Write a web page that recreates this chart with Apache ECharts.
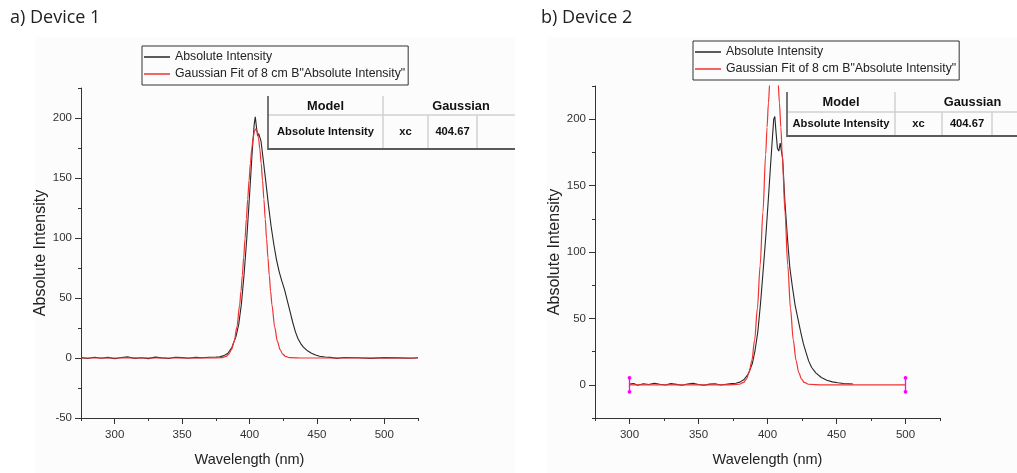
<!DOCTYPE html>
<html>
<head>
<meta charset="utf-8">
<title>Device 1 / Device 2 emission spectra</title>
<script src="https://cdn.jsdelivr.net/npm/echarts@6/dist/echarts.min.js"></script>
<style>
  html, body { margin: 0; padding: 0; background: #ffffff; }
  #chart { width: 1017px; height: 473px; }
</style>
</head>
<body>
<div id="chart"></div>
<script>
// ---- data -------------------------------------------------------------
const panelTitles = ['a) Device 1', 'b) Device 2'];
const seriesNames = ['Absolute Intensity', 'Gaussian Fit of 8 cm B"Absolute Intensity"'];

const wavelengthTicks = [300, 350, 400, 450, 500];
const intensityTicks1 = [-50, 0, 50, 100, 150, 200];
const intensityTicks2 = [0, 50, 100, 150, 200];

const tableHeader = ['Model', 'Gaussian'];
const tableRow = ['Absolute Intensity', 'xc', '404.67'];

// measured spectrum, device 1 [wavelength nm, intensity]
const device1Spectrum = [
  [275, 0.3], [280, -0.4], [285, 0.6], [290, -0.2], [295, 0.5], [300, -0.6], [305, 0.4],
  [310, 0.9], [315, -0.3], [320, 0.2], [325, -0.5], [330, 0.7], [335, 0.1], [340, -0.4],
  [345, 0.6], [350, 0.3], [355, -0.2], [360, 0.5], [365, 0.2], [370, 0.6], [375, 0.8],
  [378, 1.0], [381, 2], [384, 4], [387, 9], [390, 18], [392, 28], [394, 45], [396, 70],
  [398, 100], [400, 135], [402, 172], [403.5, 195], [404.3, 201], [405.2, 192], [406, 185],
  [406.8, 187], [407.6, 188], [408.5, 181], [410, 167], [412, 148], [414, 128], [416, 110],
  [418, 95], [420, 82], [422, 72], [424, 64], [426, 57], [428, 48], [430, 39], [432, 30],
  [434, 22], [436, 16], [438, 12], [440, 9], [443, 6], [446, 4], [449, 2.5], [452, 1.5],
  [456, 0.8], [460, 0.5], [465, -0.3], [470, 0.4], [480, 0.2], [490, -0.3], [500, 0.3],
  [510, 0.1], [520, -0.2], [525, 0.2]
];

// Gaussian fit, device 1 (xc = 404.67)
const device1Fit = [
  [275, 0], [350, 0], [370, 0], [379.67, 0.3], [382.67, 1.4], [384.67, 3.2], [386.67, 7.0],
  [388.67, 14.0], [390.67, 25.9], [392.67, 44.0], [393.67, 55.5], [394.67, 68.8], [395.67, 83.6],
  [396.67, 99.3], [397.67, 115.8], [398.67, 132.3], [399.67, 148.0], [400.67, 162.2],
  [401.67, 174.2], [402.67, 183.4], [403.67, 189.1], [404.67, 191], [405.67, 189.1],
  [406.67, 183.4], [407.67, 174.2], [408.67, 162.2], [409.67, 148.0], [410.67, 132.3],
  [411.67, 115.8], [412.67, 99.3], [413.67, 83.6], [414.67, 68.8], [415.67, 55.5],
  [416.67, 44.0], [418.67, 25.9], [420.67, 14.0], [422.67, 7.0], [424.67, 3.2],
  [426.67, 1.4], [429.67, 0.3], [440, 0], [525, 0]
];

// measured spectrum, device 2
const device2Spectrum = [
  [300, 0.5], [303, 1.0], [306, -0.3], [310, 0.8], [314, 0.2], [318, 1.2], [322, 0.4],
  [326, -0.2], [330, 0.9], [334, 0.3], [338, -0.4], [342, 0.6], [346, 1.1], [350, 0.2],
  [354, -0.3], [358, 0.5], [362, 0.8], [366, -0.2], [370, 0.4], [374, 0.9], [377, 1.2],
  [380, 2], [383, 4], [386, 8], [389, 16], [391, 26], [393, 40], [395, 62], [397, 88],
  [399, 115], [400.5, 138], [402, 162], [403.5, 185], [404.5, 200], [405.3, 202],
  [406.2, 190], [407.2, 178], [408.2, 176], [409.2, 182], [410.2, 183], [411, 170],
  [412.6, 138], [414.5, 110], [416.2, 88], [418, 74], [420, 60], [421.8, 51], [424, 40],
  [426, 31], [428, 24], [429.8, 18], [432, 13], [435, 9], [439, 5.5], [443, 3.5],
  [447, 2.2], [451, 1.5], [455, 1.0], [459, 0.8], [462, 0.6]
];

// Gaussian fit, device 2 (xc = 404.67), evaluated over the fit range 300-500 nm
const device2Fit = [
  [300, 0], [350, 0], [370, 0], [379.67, 0.4], [382.67, 1.8], [384.67, 4.2], [386.67, 9.2],
  [388.67, 18.4], [390.67, 33.8], [392.67, 57.5], [394.67, 90.0], [396.67, 130.0],
  [398.67, 173.3], [399.67, 193.8], [400.67, 212.3], [401.67, 228.0], [402.67, 240.0],
  [403.67, 247.5], [404.67, 250], [405.67, 247.5], [406.67, 240.0], [407.67, 228.0],
  [408.67, 212.3], [409.67, 193.8], [410.67, 173.3], [412.67, 130.0], [414.67, 90.0],
  [416.67, 57.5], [418.67, 33.8], [420.67, 18.4], [422.67, 9.2], [424.67, 4.2],
  [426.67, 1.8], [429.67, 0.4], [440, 0], [500, 0]
];

// ends of the fitted data range, device 2
const device2FitRange = [[300, 0], [500, 0]];

// ---- styling ----------------------------------------------------------
const SANS = "'Liberation Sans', Arial, sans-serif";
const AXIS_COLOR = '#333333';
const BLACK = '#262626';
const RED = '#f03232';

function labelFormatter(ticks) {
  return v => (ticks.indexOf(v) >= 0 ? String(v) : '');
}

function primaryX(gridIndex) {
  return {
    type: 'value', gridIndex, min: 275, max: 525, interval: 25, position: 'bottom',
    axisLine: { show: true, onZero: false, lineStyle: { color: AXIS_COLOR, width: 1 } },
    axisTick: { show: true, inside: false, length: 3, lineStyle: { color: AXIS_COLOR } },
    axisLabel: { formatter: labelFormatter(wavelengthTicks), margin: 11, color: '#333',
                 fontFamily: SANS, fontSize: 11.5 },
    splitLine: { show: false },
    name: 'Wavelength (nm)', nameLocation: 'middle', nameGap: 34,
    nameTextStyle: { fontFamily: SANS, fontSize: 14.5, color: '#222' }
  };
}
function majorX(gridIndex) {
  return {
    type: 'value', gridIndex, min: 275, max: 525, interval: 25, position: 'bottom',
    axisLine: { show: false, onZero: false },
    axisTick: { show: true, length: 6, customValues: wavelengthTicks, lineStyle: { color: AXIS_COLOR } },
    axisLabel: { show: false }, splitLine: { show: false }
  };
}
function primaryY(gridIndex, min, ticks, gap) {
  return {
    type: 'value', gridIndex, min, max: 225, interval: 25, position: 'left',
    axisLine: { show: true, onZero: false, lineStyle: { color: AXIS_COLOR, width: 1 } },
    axisTick: { show: true, inside: false, length: 3, lineStyle: { color: AXIS_COLOR } },
    axisLabel: { formatter: labelFormatter(ticks), margin: 9, color: '#333',
                 fontFamily: SANS, fontSize: 11.5 },
    splitLine: { show: false },
    name: 'Absolute Intensity', nameLocation: 'middle', nameGap: gap,
    nameTextStyle: { fontFamily: SANS, fontSize: 16, color: '#222' }
  };
}
function majorY(gridIndex, min, ticks) {
  return {
    type: 'value', gridIndex, min, max: 225, interval: 25, position: 'left',
    axisLine: { show: false, onZero: false },
    axisTick: { show: true, length: 6, customValues: ticks, lineStyle: { color: AXIS_COLOR } },
    axisLabel: { show: false }, splitLine: { show: false }
  };
}

function legendAt(left, top) {
  return {
    left, top, orient: 'vertical', data: seriesNames, icon: 'rect',
    itemWidth: 26, itemHeight: 1.5, itemGap: 1, padding: [3, 3, 3, 2],
    borderColor: '#333', borderWidth: 1, selectedMode: false,
    textStyle: { fontFamily: SANS, fontSize: 12.3, color: '#222', lineHeight: 16 }
  };
}

function seg(x1, y1, x2, y2, stroke, lineWidth) {
  return { type: 'line', z: 100, shape: { x1, y1, x2, y2 }, style: { stroke, lineWidth } };
}
function label(text, x, y, size) {
  return { type: 'text', z: 101, x, y,
    style: { text, align: 'center', verticalAlign: 'middle', fill: '#111',
             font: 'bold ' + size + 'px ' + SANS } };
}

// fit-parameter table drawn in pixel space next to each peak
function buildTable(x0, y0, colW, headH, rowH, right) {
  const xs = [x0];
  colW.forEach(w => xs.push(xs[xs.length - 1] + w));
  const yH = y0 + headH, yB = yH + rowH;
  const xr = Math.min(xs[4], right);
  const light = '#d2d2d2';
  return [
    seg(xs[1], y0, xs[1], yB, light, 1.5),
    seg(xs[2], yH, xs[2], yB, light, 1.5),
    seg(xs[3], yH, xs[3], yB, light, 1.5),
    seg(x0, yH, xr, yH, light, 1.5),
    seg(x0, y0, x0, yB + 1, '#4a4a4a', 1.5),
    seg(x0, yB, xr, yB, '#5a5a5a', 2),
    label(tableHeader[0], (xs[0] + xs[1]) / 2, y0 + headH / 2 + 0.5, 12.8),
    label(tableHeader[1], (xs[1] + xs[4]) / 2, y0 + headH / 2 + 0.5, 12.8),
    label(tableRow[0], (xs[0] + xs[1]) / 2, yH + rowH / 2, 11.2),
    label(tableRow[1], (xs[1] + xs[2]) / 2, yH + rowH / 2, 11.2),
    label(tableRow[2], (xs[2] + xs[3]) / 2, yH + rowH / 2, 11.2)
  ];
}

const chart = echarts.init(document.getElementById('chart'), null, { renderer: 'canvas' });

const option = {
  animation: false,
  backgroundColor: '#ffffff',
  title: [
    { text: panelTitles[0], left: 10, top: 9, padding: 0,
      textStyle: { fontFamily: "'Open Sans', sans-serif", fontSize: 18, fontWeight: 'normal', color: '#222' } },
    { text: panelTitles[1], left: 541, top: 9, padding: 0,
      textStyle: { fontFamily: "'Open Sans', sans-serif", fontSize: 18, fontWeight: 'normal', color: '#222' } }
  ],
  legend: [legendAt(142, 46), legendAt(693, 41)],
  grid: [
    { left: 81, top: 88, width: 337, height: 330, containLabel: false },
    { left: 595, top: 86, width: 345, height: 332, containLabel: false }
  ],
  xAxis: [primaryX(0), majorX(0), primaryX(1), majorX(1)],
  yAxis: [
    primaryY(0, -50, intensityTicks1, 30), majorY(0, -50, intensityTicks1),
    primaryY(1, -25, intensityTicks2, 32), majorY(1, -25, intensityTicks2)
  ],
  graphic: [
    { type: 'rect', z: -100, shape: { x: 35, y: 37, width: 480, height: 436 }, style: { fill: '#fcfcfc' } },
    { type: 'rect', z: -100, shape: { x: 547, y: 37, width: 470, height: 436 }, style: { fill: '#fcfcfc' } }
  ].concat(
    buildTable(268, 96, [115, 45, 49, 62], 19, 34, 515),
    buildTable(787, 92, [108, 47, 50, 58], 20, 24, 1017)
  ),
  series: [
    { name: seriesNames[0], type: 'line', xAxisIndex: 0, yAxisIndex: 0, data: device1Spectrum,
      symbol: 'none', showSymbol: false, color: BLACK, lineStyle: { width: 1.1, color: BLACK }, z: 3 },
    { name: seriesNames[1], type: 'line', xAxisIndex: 0, yAxisIndex: 0, data: device1Fit,
      symbol: 'none', showSymbol: false, smooth: 0.3, smoothMonotone: 'x',
      color: RED, lineStyle: { width: 1.2, color: RED }, z: 4 },
    { name: seriesNames[0], type: 'line', xAxisIndex: 2, yAxisIndex: 2, data: device2Spectrum,
      symbol: 'none', showSymbol: false, color: BLACK, lineStyle: { width: 1.1, color: BLACK }, z: 3 },
    { name: seriesNames[1], type: 'line', xAxisIndex: 2, yAxisIndex: 2, data: device2Fit,
      symbol: 'none', showSymbol: false, smooth: 0.3, smoothMonotone: 'x',
      color: RED, lineStyle: { width: 1.2, color: RED }, z: 4 },
    { name: 'Fit range', type: 'custom', xAxisIndex: 2, yAxisIndex: 2, data: device2FitRange,
      clip: false, z: 5,
      renderItem(params, api) {
        const p = api.coord([api.value(0), api.value(1)]);
        const c = '#ff00ff';
        return { type: 'group', children: [
          { type: 'line', shape: { x1: p[0], y1: p[1] - 8, x2: p[0], y2: p[1] + 8 }, style: { stroke: c, lineWidth: 1.3 } },
          { type: 'circle', shape: { cx: p[0], cy: p[1] - 7, r: 1.9 }, style: { fill: c } },
          { type: 'circle', shape: { cx: p[0], cy: p[1] + 7, r: 1.9 }, style: { fill: c } }
        ] };
      }
    }
  ]
};

chart.setOption(option);
</script>
</body>
</html>
